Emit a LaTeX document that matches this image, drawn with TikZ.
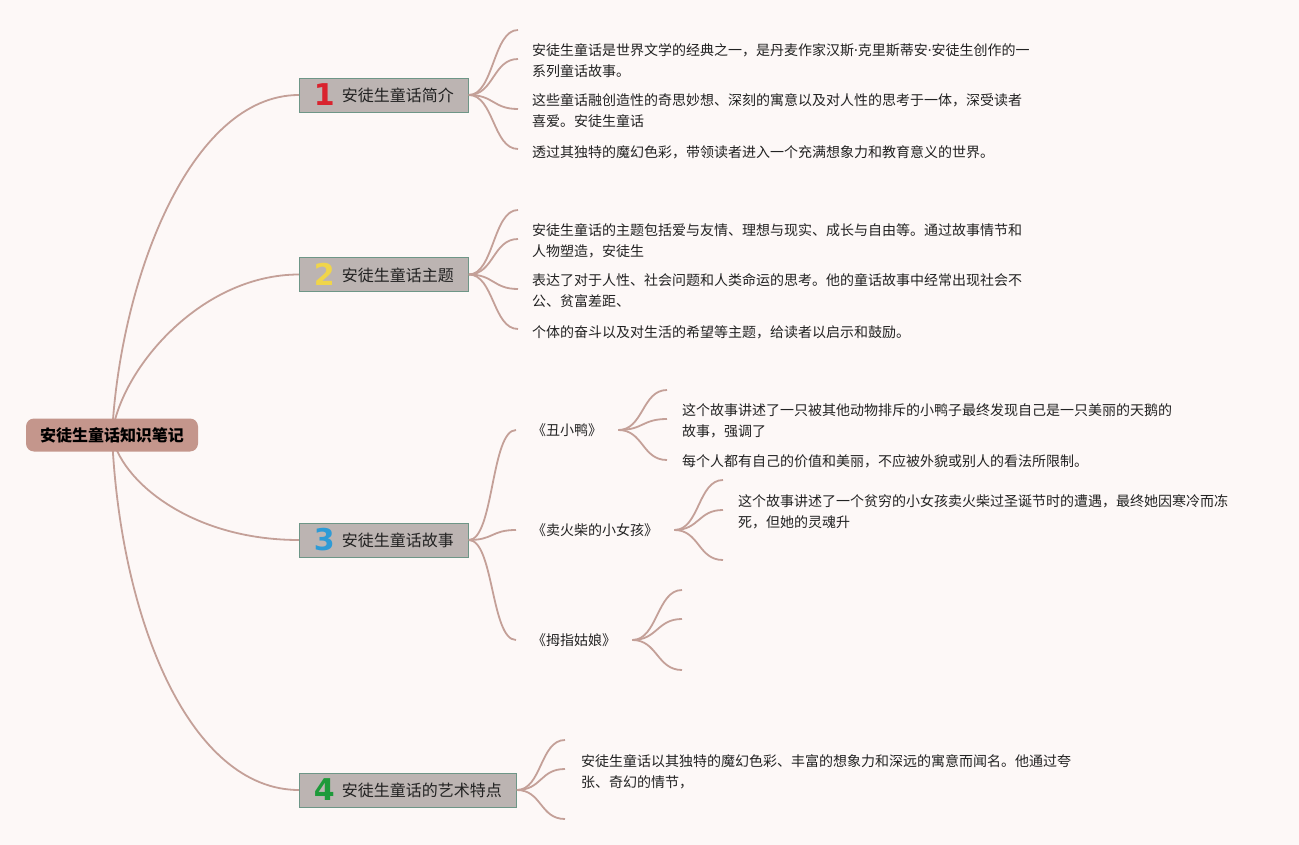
\documentclass[tikz,border=0pt]{standalone}
\usepackage{fontspec}
\setmainfont{Noto Sans CJK SC}
\newfontfamily\numfont{DejaVu Sans}[BoldFont={DejaVu Sans Bold}]
\newfontfamily\dotfont{Noto Sans}
\usetikzlibrary{backgrounds}
\definecolor{bgpink}{HTML}{FDF8F7}
\definecolor{linkc}{HTML}{C4A098}
\definecolor{rootc}{HTML}{C4968C}
\definecolor{boxc}{HTML}{BCB4B2}
\definecolor{boxline}{HTML}{6E9687}
\definecolor{txtc}{HTML}{222222}
\definecolor{numA}{HTML}{D9232E}
\definecolor{numB}{HTML}{F0D54A}
\definecolor{numC}{HTML}{2E9BD6}
\definecolor{numD}{HTML}{1E9A3A}
\newcommand\badge[2]{\raisebox{-4pt}{\numfont\bfseries\fontsize{30}{30}\selectfont\color{#1}#2}\hspace{7pt}}
\newcommand\mdot{{\dotfont ·}}
\tikzset{
  link/.style={draw=linkc, line width=1.8pt},
  rootnode/.style={fill=rootc, rounded corners=8pt, minimum width=172, minimum height=33,
    inner sep=0, text=black, font=\fontsize{16}{16}\selectfont\bfseries},
  branch/.style={fill=boxc, draw=boxline, line width=0.8pt, minimum height=34, inner sep=0,
    anchor=west, text=txtc, font=\fontsize{16}{16}\selectfont},
  story/.style={inner xsep=16pt, inner ysep=0, anchor=west, text=txtc, font=\fontsize{14}{21}\selectfont},
  leaf/.style={inner sep=0, anchor=west, align=left, text=txtc, font=\fontsize{14}{21}\selectfont}
}
\begin{document}
\begin{tikzpicture}[x=1pt,y=-1pt]
  \useasboundingbox (0,0) rectangle (1299,845);
  \node[rootnode] (root) at (112,435) {安徒生童话知识笔记};
  \node[branch, minimum width=169] (b1) at (299,95) {\badge{numA}{1}安徒生童话简介};
  \node[branch, minimum width=169] (b2) at (299,274.5) {\badge{numB}{2}安徒生童话主题};
  \node[branch, minimum width=169] (b3) at (299,540) {\badge{numC}{3}安徒生童话故事};
  \node[branch, minimum width=217] (b4) at (299,790) {\badge{numD}{4}安徒生童话的艺术特点};
  % stories
  \node[story] (s1) at (516,430) {《丑小鸭》};
  \node[story] (s2) at (516,530) {《卖火柴的小女孩》};
  \node[story] (s3) at (516,640) {《拇指姑娘》};
  % texts
  \node[leaf] (t11) at (532,60.5) {安徒生童话是世界文学的经典之一，是丹麦作家汉斯\mdot 克里斯蒂安\mdot 安徒生创作的一\\系列童话故事。};
  \node[leaf] (t12) at (532,110.5) {这些童话融创造性的奇思妙想、深刻的寓意以及对人性的思考于一体，深受读者\\喜爱。安徒生童话};
  \node[leaf] (t13) at (532,152) {透过其独特的魔幻色彩，带领读者进入一个充满想象力和教育意义的世界。};
  \node[leaf] (t21) at (532,240.5) {安徒生童话的主题包括爱与友情、理想与现实、成长与自由等。通过故事情节和\\人物塑造，安徒生};
  \node[leaf] (t22) at (532,290.5) {表达了对于人性、社会问题和人类命运的思考。他的童话故事中经常出现社会不\\公、贫富差距、};
  \node[leaf] (t23) at (532,332) {个体的奋斗以及对生活的希望等主题，给读者以启示和鼓励。};
  \node[leaf] (u11) at (682,420.5) {这个故事讲述了一只被其他动物排斥的小鸭子最终发现自己是一只美丽的天鹅的\\故事，强调了};
  \node[leaf] (u12) at (682,461) {每个人都有自己的价值和美丽，不应被外貌或别人的看法所限制。};
  \node[leaf] (u21) at (738,511.5) {这个故事讲述了一个贫穷的小女孩卖火柴过圣诞节时的遭遇，最终她因寒冷而冻\\死，但她的灵魂升};
  \node[leaf] (t41) at (581,772) {安徒生童话以其独特的魔幻色彩、丰富的想象力和深远的寓意而闻名。他通过夸\\张、奇幻的情节，};
  \begin{pgfonlayer}{background}
    \fill[bgpink] (0,0) rectangle (1299,845);
    \draw[link] (root.center) .. controls (120,280) and (190,95) .. (b1.west);
    \draw[link] (root.center) .. controls (120,370) and (200,274.5) .. (b2.west);
    \draw[link] (root.center) .. controls (120,480) and (190,540) .. (b3.west);
    \draw[link] (root.center) .. controls (120,620) and (190,790) .. (b4.west);
  \end{pgfonlayer}
  \foreach \s in {s1,s2,s3}{\draw[link] (b3.east) .. controls +(25,0) and +(-25,0) .. (\s.west);}
  % fans
  \foreach \y [count=\i] in {30,59,109,149}{
    \coordinate (f1\i) at (518,\y);
    \draw[link] (b1.east) .. controls +(25,0) and +(-25,0) .. (f1\i);}
  \foreach \y [count=\i] in {210,239,289,329}{
    \coordinate (f2\i) at (518,\y);
    \draw[link] (b2.east) .. controls +(25,0) and +(-25,0) .. (f2\i);}
  \foreach \y [count=\i] in {740,769,819}{
    \coordinate (f4\i) at (565,\y);
    \draw[link] (b4.east) .. controls +(25,0) and +(-25,0) .. (f4\i);}
  \foreach \y [count=\i] in {390,419,460}{
    \coordinate (g1\i) at (667,\y);
    \draw[link] (s1.east) .. controls +(25,0) and +(-25,0) .. (g1\i);}
  \foreach \y [count=\i] in {480,510,560}{
    \coordinate (g2\i) at (723,\y);
    \draw[link] (s2.east) .. controls +(25,0) and +(-25,0) .. (g2\i);}
  \foreach \y [count=\i] in {590,619,670}{
    \coordinate (g3\i) at (682,\y);
    \draw[link] (s3.east) .. controls +(25,0) and +(-25,0) .. (g3\i);}
\end{tikzpicture}
\end{document}
